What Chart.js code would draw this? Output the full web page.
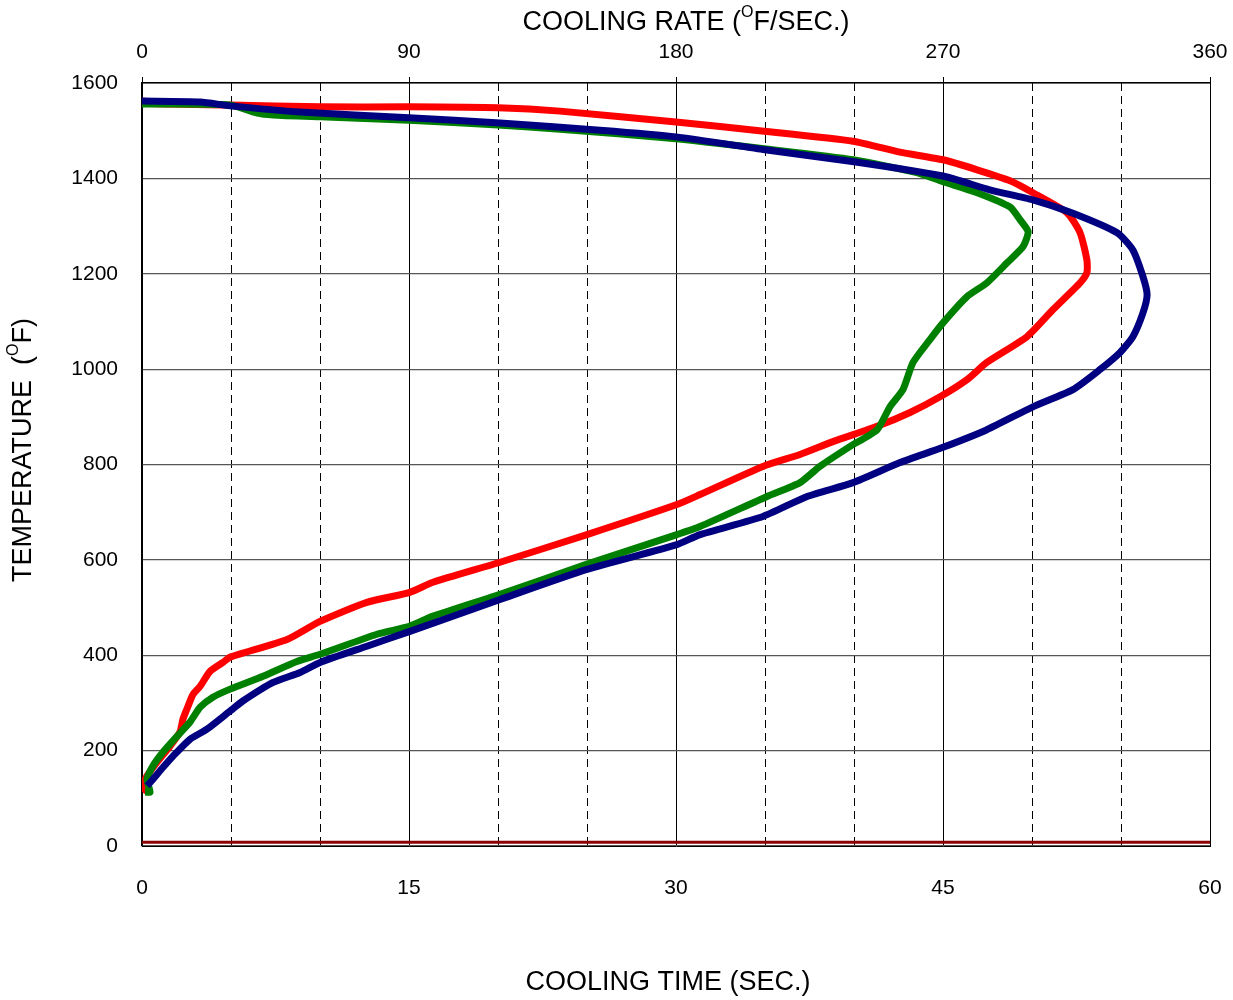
<!DOCTYPE html>
<html>
<head>
<meta charset="utf-8">
<script src="https://cdn.jsdelivr.net/npm/chart.js@4"></script>
<style>
  body { margin: 0; background: #fff; }
  #wrap { width: 1233px; height: 1000px; position: relative; }
</style>
</head>
<body>
<div id="wrap"><canvas id="myChart"></canvas></div>
<script>
// cooling rate (F/sec) vs temperature (F)
const navyRate = [0, 19.6, 29.7, 53.3, 90, 120.7, 154.4, 180, 210, 240, 270, 285.8, 300.3, 313.8, 328.7, 334, 337.4, 338.8, 337.4, 334, 329.7, 322.9, 313.8, 300.3, 284.8, 270, 255.5, 239.7, 224.2, 209.3, 188.1, 180.3, 150, 120.7, 90.3, 75.8, 60, 53.3, 44.2, 34, 29.7, 21.9, 16.2, 10.4, 7.1, 3.7, 1.7];
const navyTemp = [1562, 1560, 1552, 1539, 1527, 1516, 1501, 1487, 1460, 1435, 1405, 1376, 1355, 1327, 1286, 1250, 1194, 1156, 1118, 1068, 1035, 999, 957, 921, 873, 836, 804, 762, 733, 691, 653, 632, 580, 517, 450, 419, 385, 364, 343, 304, 283, 245, 224, 188, 165, 140, 126];

const greenRate = [0, 29.7, 38.8, 44.2, 60, 90, 120, 140.9, 180, 209.7, 239.7, 261.2, 270, 281.5, 292.6, 296, 298.7, 297, 291.6, 284.8, 278.1, 270, 265.6, 259.9, 256.5, 252.1, 247.8, 238.7, 228.5, 221.8, 210.7, 188.1, 180.3, 150, 120.7, 98.1, 90.3, 79.2, 60, 52.2, 40.8, 29.7, 23.9, 19.6, 16.2, 11.8, 7.1, 3.7, 1.7, 2.7, 1];
const greenTemp = [1556, 1554, 1537, 1533, 1529, 1522, 1512, 1503, 1483, 1462, 1439, 1412, 1393, 1370, 1340, 1313, 1288, 1257, 1223, 1181, 1152, 1097, 1062, 1014, 957, 921, 873, 838, 796, 762, 733, 670, 653, 591, 528, 482, 461, 444, 402, 387, 356, 329, 312, 291, 260, 230, 197, 168, 140, 113, 113];

const redRate = [0, 0, 29.7, 60, 90, 120, 140.9, 180, 209.7, 239.7, 255.5, 270, 281.5, 292.6, 300.3, 311.8, 316.2, 318.5, 318.5, 316.2, 307.1, 298.3, 284.8, 278.1, 269, 258.9, 247.8, 232.9, 221.8, 209.3, 188.1, 180.3, 150, 120.7, 98.1, 90.3, 75.8, 60, 48.9, 29.7, 27.3, 22.9, 19.6, 17.2, 15.5, 13.8, 12.8, 9.4, 5.1, 1.7, 0.3, 1.7];
const redTemp = [1569, 1558, 1554, 1550, 1550, 1548, 1541, 1518, 1499, 1478, 1455, 1439, 1418, 1395, 1370, 1328, 1286, 1229, 1202, 1181, 1125, 1068, 1014, 978, 942, 909, 880, 848, 821, 796, 737, 716, 653, 595, 553, 532, 511, 471, 433, 396, 385, 366, 335, 318, 293, 266, 239, 209, 176, 147, 126, 113];

// cooling time (sec) vs temperature, the flat dark red trace at the bottom
const timeSec = [0, 60];
const timeTemp = [8, 8];

const timeTicks = [0, 15, 30, 45, 60];
const rateTicks = [0, 90, 180, 270, 360];
const tempTicks = [0, 200, 400, 600, 800, 1000, 1200, 1400, 1600];

function pts(xs, ys) {
  return xs.map((x, i) => ({ x: x, y: ys[i] }));
}

const FONT = '"Liberation Sans", Arial, sans-serif';

// axis titles with the raised "O" for degrees
function supText(ctx, parts, x, y) {
  let total = 0;
  parts.forEach(p => {
    ctx.font = (p.sup ? '16px ' : '27px ') + FONT;
    p.w = ctx.measureText(p.t).width;
    total += p.w;
  });
  let cx = x - total / 2;
  parts.forEach(p => {
    ctx.font = (p.sup ? '16px ' : '27px ') + FONT;
    ctx.fillText(p.t, cx, p.sup ? y - 10 : y);
    cx += p.w;
  });
}

const titlePlugin = {
  id: 'titles',
  afterDraw(chart) {
    const ctx = chart.ctx;
    const a = chart.chartArea;
    ctx.save();
    ctx.fillStyle = '#000';
    ctx.textBaseline = 'middle';
    ctx.textAlign = 'left';
    supText(ctx, [{ t: 'COOLING RATE (' }, { t: 'O', sup: true }, { t: 'F/SEC.)' }], (a.left + a.right) / 2 + 10, 23);
    supText(ctx, [{ t: 'COOLING TIME (SEC.)' }], (a.left + a.right) / 2 - 8, 983);
    ctx.translate(24, 450);
    ctx.rotate(-Math.PI / 2);
    supText(ctx, [{ t: 'TEMPERATURE  (' }, { t: 'O', sup: true }, { t: 'F)' }], 0, 0);
    ctx.restore();
  }
};

const lineStyle = { showLine: true, pointRadius: 0, borderWidth: 7, tension: 0.2, fill: false, xAxisID: 'x2', yAxisID: 'y' };
const plain = v => String(v);
const noSidePad = s => { s.paddingLeft = 0; s.paddingRight = 0; };

const data = {
  datasets: [
    Object.assign({ label: 'time', data: pts(timeSec, timeTemp), borderColor: '#8b0000', backgroundColor: '#8b0000' }, lineStyle, { borderWidth: 3, xAxisID: 'x', tension: 0 }),
    Object.assign({ label: 'navy', data: pts(navyRate, navyTemp), borderColor: '#000080', backgroundColor: '#000080' }, lineStyle),
    Object.assign({ label: 'green', data: pts(greenRate, greenTemp), borderColor: '#008000', backgroundColor: '#008000' }, lineStyle),
    Object.assign({ label: 'red', data: pts(redRate, redTemp), borderColor: '#ff0000', backgroundColor: '#ff0000' }, lineStyle)
  ]
};

const config = {
  type: 'scatter',
  data: data,
  plugins: [titlePlugin],
  options: {
    responsive: true,
    maintainAspectRatio: false,
    animation: false,
    layout: { padding: { left: 0, right: 23, top: 0, bottom: 0 } },
    plugins: { legend: { display: false }, tooltip: { enabled: false } },
    scales: {
      x: {
        type: 'linear', position: 'bottom', min: 0, max: 60,
        afterBuildTicks: s => { s.ticks = timeTicks.map(v => ({ value: v })); },
        afterFit: s => { s.height = 154; noSidePad(s); },
        ticks: { color: '#000', font: { family: FONT, size: 21 }, padding: 30, maxRotation: 0, callback: plain },
        grid: { color: '#000', lineWidth: 1, drawTicks: false },
        border: { color: '#000', width: 1 }
      },
      xd: {
        type: 'linear', position: 'bottom', min: 0, max: 60,
        ticks: { display: false, stepSize: 5 },
        afterFit: s => { s.height = 0; noSidePad(s); },
        grid: { color: ctx => (ctx.tick && ctx.tick.value % 15 === 0) ? 'rgba(0,0,0,0)' : '#000', lineWidth: 1, drawTicks: false },
        border: { display: false, dash: [8, 5] }
      },
      x2: {
        type: 'linear', position: 'top', min: 0, max: 360,
        afterBuildTicks: s => { s.ticks = rateTicks.map(v => ({ value: v })); },
        afterFit: s => { s.height = 83; noSidePad(s); },
        ticks: { color: '#000', font: { family: FONT, size: 21 }, padding: 12, maxRotation: 0, callback: plain },
        grid: { drawOnChartArea: false, color: '#000', tickLength: 6 },
        border: { color: '#000', width: 1.5 }
      },
      y: {
        type: 'linear', position: 'left', min: 0, max: 1600,
        afterBuildTicks: s => { s.ticks = tempTicks.map(v => ({ value: v })); },
        afterFit: s => { s.width = 142; s.paddingTop = 0; s.paddingBottom = 0; },
        ticks: { color: '#000', font: { family: FONT, size: 21 }, padding: 24, callback: plain },
        grid: { color: '#555', lineWidth: 1.2, drawTicks: false },
        border: { color: '#000', width: 1.5 }
      }
    }
  }
};

const myChart = new Chart(document.getElementById('myChart'), config);
</script>
</body>
</html>
